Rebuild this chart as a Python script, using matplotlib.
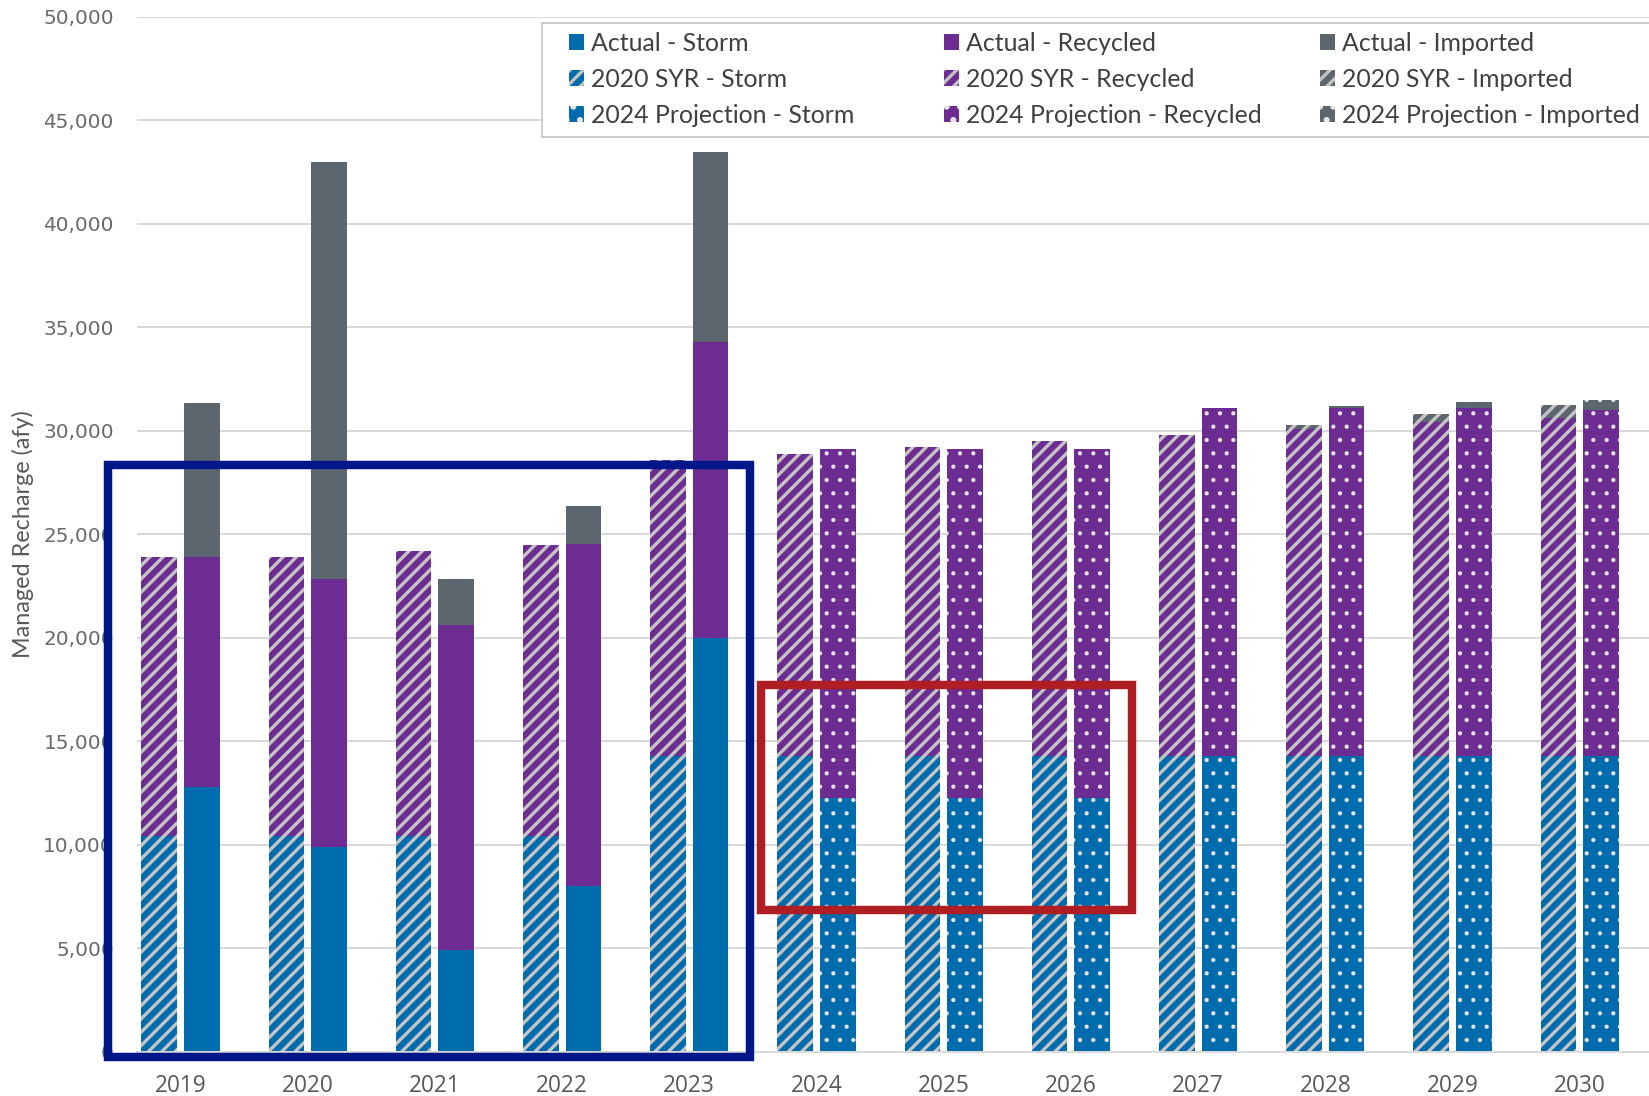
import matplotlib
matplotlib.use("Agg")
import matplotlib.pyplot as plt
from matplotlib.patches import Rectangle, Patch
from matplotlib.ticker import FuncFormatter, MultipleLocator
import numpy as np

# ---------------- data ----------------
years = ["2019", "2020", "2021", "2022", "2023", "2024",
         "2025", "2026", "2027", "2028", "2029", "2030"]

syr_storm = [10400, 10400, 10400, 10400, 14300, 14300,
             14300, 14300, 14300, 14300, 14300, 14300]
syr_recycled = [13500, 13500, 13800, 14100, 14300, 14600,
                14900, 15200, 15500, 15800, 16100, 16300]
syr_imported = [0, 0, 0, 0, 0, 0, 0, 0, 0, 200, 400, 650]

# right-hand bar: Actual (2019-2023) / 2024 Projection (2024-2030)
right_kind = ["Actual"] * 5 + ["2024 Projection"] * 7
right_storm = [12800, 9900, 4900, 8000, 20000, 12250,
               12250, 12250, 14300, 14300, 14300, 14300]
right_recycled = [11100, 12950, 15700, 16550, 14300, 16850,
                  16850, 16850, 16800, 16800, 16800, 16700]
right_imported = [7450, 20150, 2250, 1800, 9150, 0, 0, 0, 0, 100, 300, 500]

sources = ["Storm", "Recycled", "Imported"]
series_names = ["Actual", "2020 SYR", "2024 Projection"]

# annotation boxes (data coordinates: x in category units, y in afy)
blue_box = (-0.570, 4.477, -280, 28340)
red_box = (4.56, 7.477, 6860, 17710)

# ---------------- style ----------------
DPI = 160
C_STORM = "#006BAD"
C_REC = "#6D2C91"
C_IMP = "#5B666E"
COLS = {"Storm": C_STORM, "Recycled": C_REC, "Imported": C_IMP}
HATCH_GRAY = "#C4C4C4"
DOT_COL = "#E4E4E4"
STRIPE = "////"
DOTS = ".."
STRIPE_LW = 1.5
DOT_LW = 0.7

plt.rcParams["hatch.linewidth"] = STRIPE_LW

fig = plt.figure(figsize=(1649 / DPI, 1096 / DPI), dpi=DPI)
ax_left = 137 / 1649
ax_bottom = (1096 - 1051.7) / 1096
ax_top = (1096 - 16.8) / 1096
ax = fig.add_axes([ax_left, ax_bottom, 1 - ax_left, ax_top - ax_bottom])

x = np.arange(len(years))
w = 0.28
off = 0.1675


def set_hlw(bars, lw):
    for b in bars:
        if hasattr(b, "set_hatch_linewidth"):
            b.set_hatch_linewidth(lw)


# SYR bars (hatched)
b1 = ax.bar(x - off, syr_storm, w, color=C_STORM, hatch=STRIPE,
            edgecolor=HATCH_GRAY, linewidth=0)
b2 = ax.bar(x - off, syr_recycled, w, bottom=syr_storm, color=C_REC,
            hatch=STRIPE, edgecolor=HATCH_GRAY, linewidth=0)
syr_b3 = np.array(syr_storm) + np.array(syr_recycled)
b3 = ax.bar(x - off, syr_imported, w, bottom=syr_b3, color=C_IMP,
            hatch=STRIPE, edgecolor=HATCH_GRAY, linewidth=0)
for bs in (b1, b2, b3):
    set_hlw(bs, STRIPE_LW)

# Actual / Projection bars
rs = np.array(right_storm)
rr = np.array(right_recycled)
ri = np.array(right_imported)
for kind, hatch in (("Actual", None), ("2024 Projection", DOTS)):
    idx = np.array([k == kind for k in right_kind])
    kw = dict(linewidth=0)
    if hatch:
        kw.update(hatch=hatch, edgecolor=DOT_COL)
    with plt.rc_context({"hatch.linewidth": DOT_LW if hatch else STRIPE_LW}):
        bb = []
        bb.append(ax.bar(x[idx] + off, rs[idx], w, color=C_STORM, **kw))
        bb.append(ax.bar(x[idx] + off, rr[idx], w, bottom=rs[idx], color=C_REC, **kw))
        bb.append(ax.bar(x[idx] + off, ri[idx], w, bottom=rs[idx] + rr[idx],
                         color=C_IMP, **kw))
    if hatch:
        for bs in bb:
            set_hlw(bs, DOT_LW)

# axes styling
ax.set_xlim((137 - 180.5) / 127.2, (1649 - 180.5) / 127.2)
ax.set_ylim(0, 50000)
ax.yaxis.set_major_locator(MultipleLocator(5000))
ax.yaxis.set_major_formatter(FuncFormatter(lambda v, p: f"{v:,.0f}"))
ax.set_xticks(x)
ax.set_xticklabels(years)
ax.grid(axis="y", color="#D9D9D9", linewidth=0.9)
ax.set_axisbelow(True)
for s in ("left", "top", "right"):
    ax.spines[s].set_visible(False)
ax.spines["bottom"].set_color("#D9D9D9")
ax.spines["bottom"].set_linewidth(0.9)
ax.tick_params(axis="y", length=0, pad=10.4, labelsize=9, labelcolor="#6A6A6A")
ax.tick_params(axis="x", length=0, pad=10.0, labelsize=10.2, labelcolor="#595959")
for t in ax.get_xticklabels():
    t.set_fontfamily("Open Sans")
for t in ax.get_yticklabels():
    t.set_fontfamily("DejaVu Sans")

fig.text(23 / 1649, 1 - 534 / 1096, "Managed Recharge (afy)", rotation=90,
         ha="center", va="center", family="Lato", size=10.5, color="#595959")

# annotation boxes
for (x0, x1, y0, y1), col in ((blue_box, "#001689"), (red_box, "#AF1E23")):
    ax.add_patch(Rectangle((x0, y0), x1 - x0, y1 - y0, fill=False,
                           edgecolor=col, linewidth=3.8, clip_on=False,
                           zorder=10, joinstyle="miter"))

# legend frame
fig.add_artist(Rectangle((542 / 1649, 1 - 137 / 1096), (1700 - 542) / 1649,
                         (137 - 23) / 1096, transform=fig.transFigure,
                         facecolor="white", edgecolor="#C8C8C8",
                         linewidth=0.8, zorder=3))

# legend: one column per source
col_x = [569, 944, 1320]
for src, cx in zip(sources, col_x):
    handles, labels = [], []
    for name in series_names:
        if name == "Actual":
            h = Patch(facecolor=COLS[src], linewidth=0)
        elif name == "2020 SYR":
            h = Patch(facecolor=COLS[src], hatch=STRIPE, edgecolor=HATCH_GRAY,
                      linewidth=0)
        else:
            with plt.rc_context({"hatch.linewidth": DOT_LW}):
                h = Patch(facecolor=COLS[src], hatch=DOTS, edgecolor=DOT_COL,
                          linewidth=0)
        handles.append(h)
        labels.append(f"{name} - {src}")
    leg = fig.legend(handles, labels, ncol=1, loc="upper left",
                     bbox_to_anchor=(cx / 1649, 1 - 32 / 1096),
                     bbox_transform=fig.transFigure, frameon=False,
                     borderpad=0, borderaxespad=0, handlelength=0.6,
                     handleheight=0.6, handletextpad=0.3,
                     labelspacing=0.52, prop={"family": "Lato", "size": 11.2},
                     labelcolor="#404040")
    leg.set_zorder(6)

fig.savefig("out.png", dpi=DPI)
